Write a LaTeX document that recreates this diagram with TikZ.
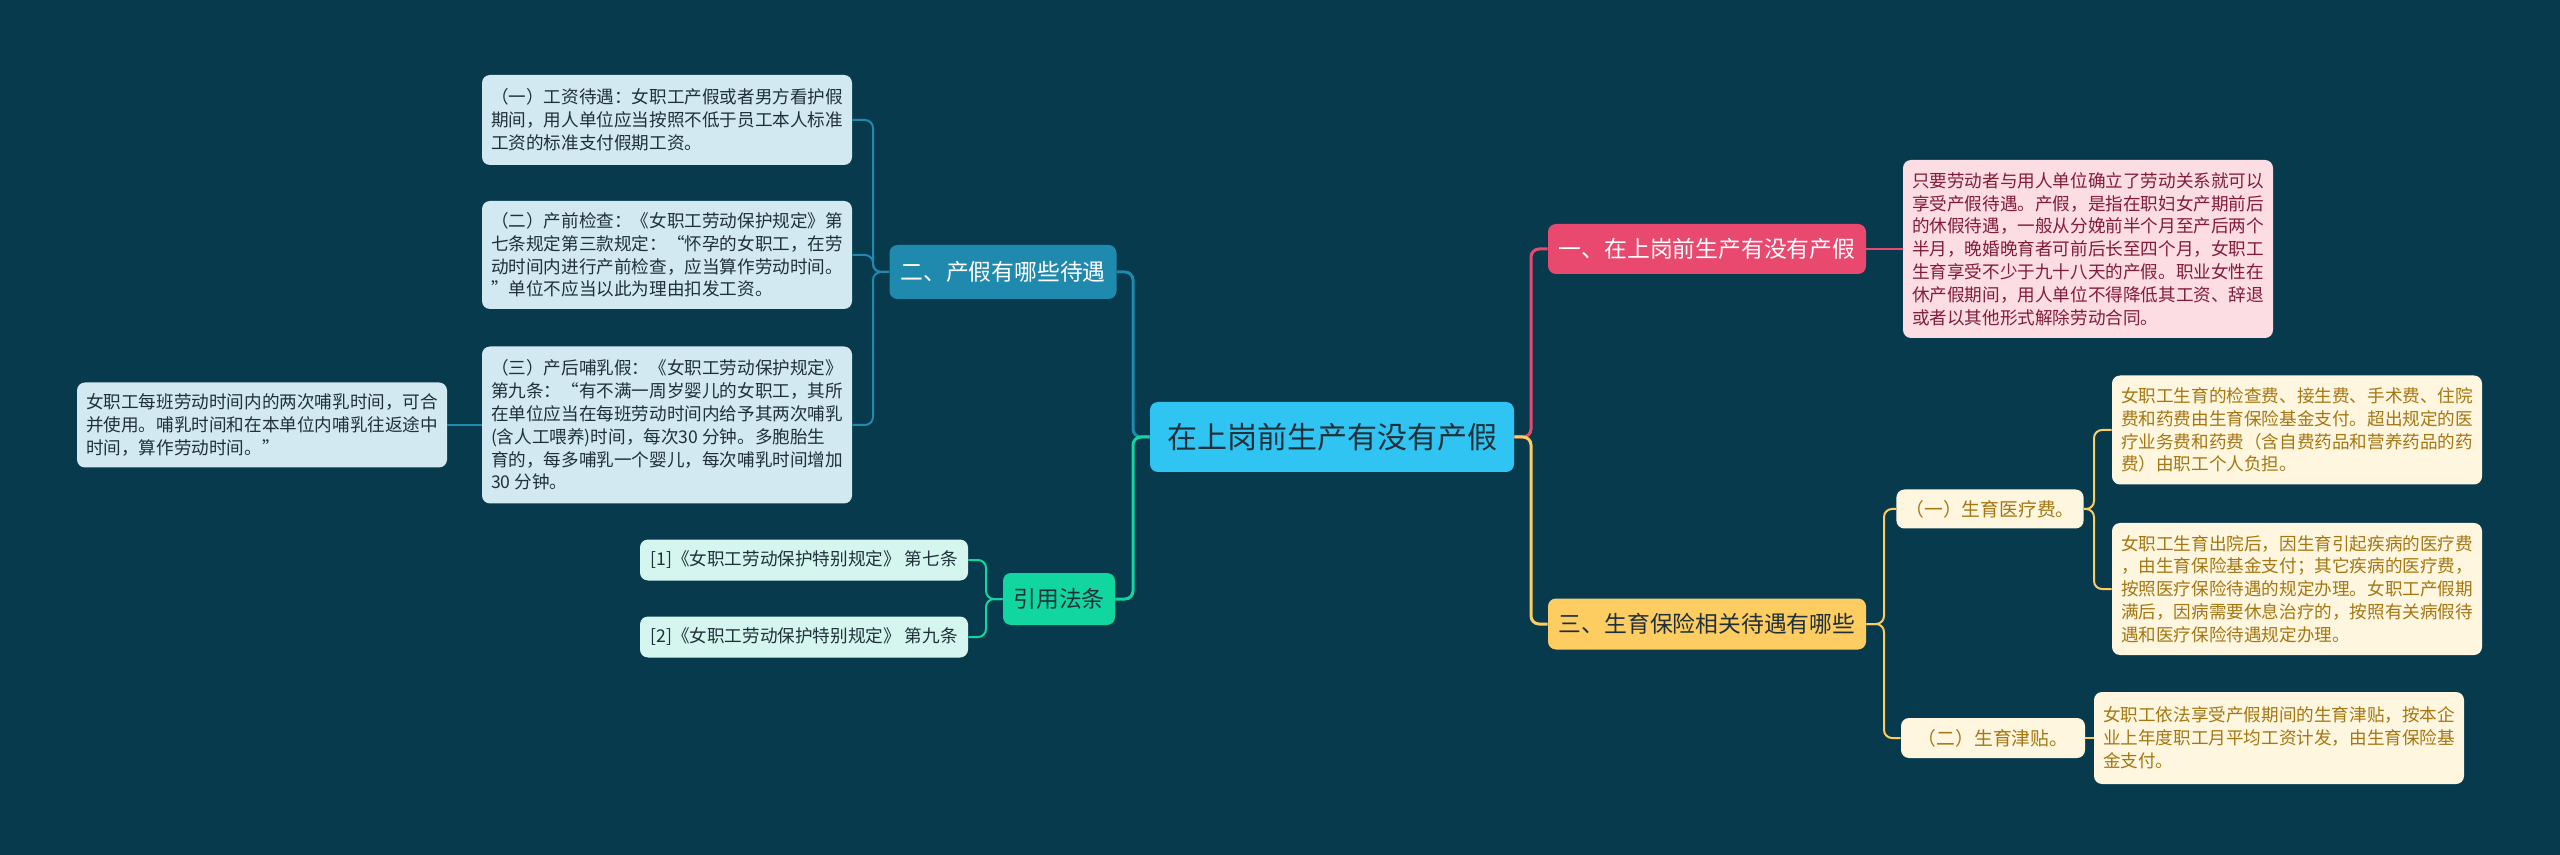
\documentclass[tikz,border=0pt]{standalone}
\usepackage{fontspec}
\newfontfamily\cjk{Noto Sans CJK SC}
\definecolor{bgcol}{RGB}{8,58,78}
\definecolor{rootfill}{RGB}{48,196,242}
\definecolor{redfill}{RGB}{233,73,110}
\definecolor{yelfill}{RGB}{253,205,98}
\definecolor{bluefill}{RGB}{32,137,174}
\definecolor{greenfill}{RGB}{18,214,160}
\definecolor{blueleaf}{RGB}{210,233,241}
\definecolor{greenleaf}{RGB}{213,246,238}
\definecolor{redleaf}{RGB}{252,221,227}
\definecolor{yelleaf}{RGB}{254,246,223}
\definecolor{darktext}{RGB}{32,48,58}
\definecolor{redtext}{RGB}{130,28,56}
\definecolor{yeltext}{RGB}{165,118,18}
\begin{document}
\begin{tikzpicture}
        [x=0.5pt,y=-0.5pt,
        every node/.style={rounded corners=4pt,inner sep=4.5pt,align=left},
        roottopic/.style={fill=rootfill,text=darktext,font=\cjk\fontsize{15pt}{18pt}\selectfont},
        topic/.style={font=\cjk\fontsize{11.4pt}{14pt}\selectfont},
        subtopic/.style={fill=yelleaf,text=yeltext,font=\cjk\fontsize{9.4pt}{11pt}\selectfont},
        leaf/.style={minimum width=185pt,font=\cjk\fontsize{8.8pt}{11.4pt}\selectfont},
        link/.style={line width=1.5pt,rounded corners=4pt},
        sublink/.style={line width=1pt,rounded corners=4pt}]
        \path[use as bounding box,fill=bgcol] (0,0) rectangle (2560,855);
        % centre
        \node[roottopic,minimum width=182pt,minimum height=35pt] (root) at (1332,437) {在上岗前生产有没有产假};
        % right side
        \node[topic,fill=redfill,text=white,minimum width=159pt,minimum height=25pt] (sec1) at (1707,249) {一、在上岗前生产有没有产假};
        \node[topic,fill=yelfill,text=darktext,minimum width=159pt,minimum height=25.5pt] (sec3) at (1707,624) {三、生育保险相关待遇有哪些};
        \node[leaf,fill=redleaf,text=redtext,minimum height=89pt] (leave) at (2088,249)
          {只要劳动者与用人单位确立了劳动关系就可以\\享受产假待遇。产假，是指在职妇女产期前后\\的休假待遇，一般从分娩前半个月至产后两个\\半月，晚婚晚育者可前后长至四个月，女职工\\生育享受不少于九十八天的产假。职业女性在\\休产假期间，用人单位不得降低其工资、辞退\\或者以其他形式解除劳动合同。};
        \node[subtopic,minimum width=89pt,minimum height=19.5pt] (medfee) at (1990,509) {（一）生育医疗费。};
        \node[subtopic,minimum width=92pt,minimum height=20pt] (allow) at (1993,738) {（二）生育津贴。};
        \node[leaf,fill=yelleaf,text=yeltext,minimum height=54.5pt] (medfee1) at (2297,430)
          {女职工生育的检查费、接生费、手术费、住院\\费和药费由生育保险基金支付。超出规定的医\\疗业务费和药费（含自费药品和营养药品的药\\费）由职工个人负担。};
        \node[leaf,fill=yelleaf,text=yeltext,minimum height=66pt] (medfee2) at (2297,589)
          {女职工生育出院后，因生育引起疾病的医疗费\\，由生育保险基金支付；其它疾病的医疗费，\\按照医疗保险待遇的规定办理。女职工产假期\\满后，因病需要休息治疗的，按照有关病假待\\遇和医疗保险待遇规定办理。};
        \node[leaf,fill=yelleaf,text=yeltext,minimum height=46pt] (allow1) at (2279,738)
          {女职工依法享受产假期间的生育津贴，按本企\\业上年度职工月平均工资计发，由生育保险基\\金支付。};
        % left side
        \node[topic,fill=bluefill,text=white,minimum width=113.5pt,minimum height=27pt] (sec2) at (1003,272) {二、产假有哪些待遇};
        \node[topic,fill=greenfill,text=darktext,minimum width=56pt,minimum height=26pt] (cite) at (1059,599) {引用法条};
        \node[leaf,fill=blueleaf,text=darktext,minimum height=45pt] (pay) at (667,120)
          {（一）工资待遇：女职工产假或者男方看护假\\期间，用人单位应当按照不低于员工本人标准\\工资的标准支付假期工资。};
        \node[leaf,fill=blueleaf,text=darktext,minimum height=54pt] (check) at (667,255)
          {（二）产前检查：《女职工劳动保护规定》第\\七条规定第三款规定：“怀孕的女职工，在劳\\动时间内进行产前检查，应当算作劳动时间。\\”单位不应当以此为理由扣发工资。};
        \node[leaf,fill=blueleaf,text=darktext,minimum height=78.5pt] (nurse) at (667,425)
          {（三）产后哺乳假：《女职工劳动保护规定》\\第九条：“有不满一周岁婴儿的女职工，其所\\在单位应当在每班劳动时间内给予其两次哺乳\\(含人工喂养)时间，每次30 分钟。多胞胎生\\育的，每多哺乳一个婴儿，每次哺乳时间增加\\30 分钟。};
        \node[leaf,fill=blueleaf,text=darktext,minimum height=42.5pt] (nurse1) at (262,425)
          {女职工每班劳动时间内的两次哺乳时间，可合\\并使用。哺乳时间和在本单位内哺乳往返途中\\时间，算作劳动时间。”};
        \node[leaf,minimum width=164pt,fill=greenleaf,text=darktext,minimum height=20.5pt] (law1) at (804,560)
          {[1]《女职工劳动保护特别规定》 第七条};
        \node[leaf,minimum width=164pt,fill=greenleaf,text=darktext,minimum height=20.5pt] (law2) at (804,637)
          {[2]《女职工劳动保护特别规定》 第九条};
        % branch points
        \coordinate (rbus) at (1531,437);
        \coordinate (lbus) at (1133,437);
        \coordinate (sec2bus) at (873,272);
        \coordinate (citebus) at (986,599);
        \coordinate (sec3bus) at (1884,624);
        \coordinate (medbus) at (2094,509);
        % connectors
        \draw[link,draw=redfill] (root.east) -- (rbus) |- (sec1.west);
        \draw[link,draw=yelfill] (root.east) -- (rbus) |- (sec3.west);
        \draw[link,draw=bluefill] (root.west) -- (lbus) |- (sec2.east);
        \draw[link,draw=greenfill] (root.west) -- (lbus) |- (cite.east);
        \draw[sublink,draw=redfill] (sec1.east) -- (leave.west);
        \foreach \n in {pay,check,nurse}
          \draw[sublink,draw=bluefill] (sec2.west) -- (sec2bus) |- (\n.east);
        \draw[sublink,draw=bluefill] (nurse.west) -- (nurse1.east);
        \foreach \n in {law1,law2}
          \draw[sublink,draw=greenfill] (cite.west) -- (citebus) |- (\n.east);
        \foreach \n in {medfee,allow}
          \draw[sublink,draw=yelfill] (sec3.east) -- (sec3bus) |- (\n.west);
        \foreach \n in {medfee1,medfee2}
          \draw[sublink,draw=yelfill] (medfee.east) -- (medbus) |- (\n.west);
        \draw[sublink,draw=yelfill] (allow.east) -- (allow1.west);
\end{tikzpicture}
\end{document}
